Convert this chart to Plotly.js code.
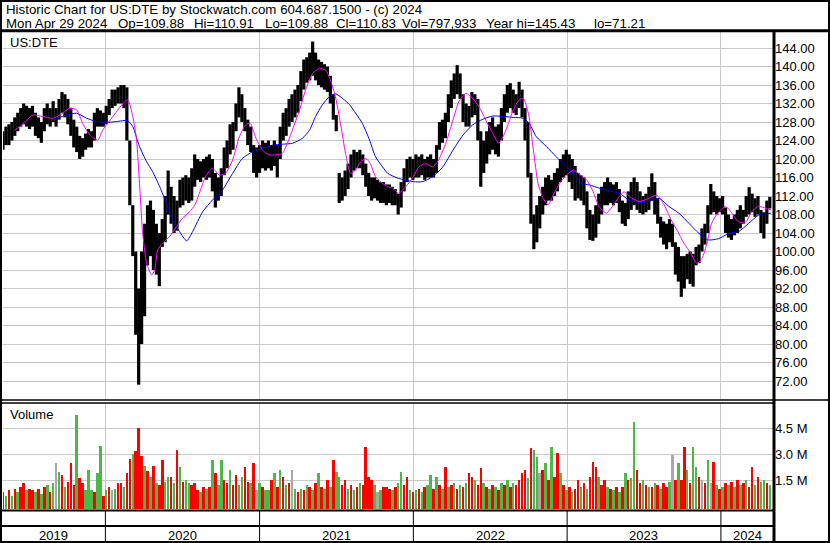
<!DOCTYPE html>
<html><head><meta charset="utf-8">
<script src="https://cdn.plot.ly/plotly-3.0.1.min.js"></script>
<style>html,body{margin:0;padding:0;background:#fff;}#chart{width:830px;height:543px;}</style>
</head><body><div id="chart"></div>
<script>
// ---------------- DATA ----------------
const startDate = '2019-05-03'; // first weekly bar
const weekHigh = [
126,127,127.5,128,129,130,131,132,131.5,131,
131.5,130,129,128,131,132,131,132.5,131,133,
134.5,134,133,131,128.5,127,125,124.5,125.5,126.5,
126,130,131,130.5,130,131.5,133,135,135,135.5,
136,136,135.5,124,110,100,92,100,106,110,
111,109,106,104,107,112,117.5,114,112,111,
115.5,116,116.5,116,118,121,120,119.5,120,120.5,
121,120,117,116,118,122.5,124,127.5,128,132,
135.5,134,131,128.5,127,123,122.5,123,124,123.5,
124,123,124,123,127,130,131,133,134,135,
136,139,141.5,142,143,145.4,143,141.5,141,140.5,
140,138,134,129.5,117,116,117.5,119,121,122,
121.5,122,121,119,117,116,116,115.5,115,115,
114.5,114.5,114,113.5,112.5,115,118,120,120.5,120,
121,120.5,121,120,120.5,121,120,123,128,128.5,
130,134,137,138.5,140.3,138.5,134,132,131.5,134.5,
134,133,126,124,126,128,129,127,127.5,131,
134,136,136.4,135,134,136.7,135,131,128,117,
108,110,112,114,116,116.5,115.5,117,118,120,
121,122,121,120,118.5,117,116.5,116,113,109,
108,110,112.5,114,115,116,115,114.5,115,113.5,
111,110.5,113,115,116,115,113,112,112.5,114,
116.9,115,111.5,107.5,106.5,106,107,106,102,101,
99,99,99.5,100,99.5,101,101.5,105,106,110,
114.6,113,112,111.5,112,109.5,108,107,108,109,
110,109,112,113.9,112.5,111.5,112,109,108.5,111,
111.8];
const weekLow = [
122,123,123,124,125,126,127,127.5,127,126.5,
127,125,124.5,123.5,126,127.5,127,128,127,128.5,
130,129,127.5,125,122.5,121.5,120,120.5,122,122.5,
122.5,124,127,127,127,127.5,129.5,131,131.5,132,
132,131,124,110,99,82,71.2,80,86,97,
99,96,95,92.5,101,102,108,106,104,104.5,
109.5,110,111,110.5,111,114,115.5,115,116,115.5,
116,113,109.5,111,112,116.5,118,121,122,126,
129,128,126,123,121.5,117,116,117,118,117.5,
118,117.5,118.5,116,120,124,125,127,128,129,
130,132.5,135,136.5,137,138,137,136,135.5,135,
134.5,132,128.5,126,110.5,111,112,113.5,116,117.5,
118,118,116.5,114,112,111,111.5,111,110.5,110.5,
110,110.5,110,110,108,109.5,113,115,116,115.5,
116,116,116.5,115.5,116,116,116,117,122,123.5,
124.5,128,131,133,134,133,128,127,127,129,
129.5,124,114,117,119,121,122,121,120.5,124,
128,130,131,130,129.5,131,129,124,116,106,
100.5,102,105,108,110,111,111,112,113,115,
116,116.5,115,113.5,111,111.5,111,110,105,102.5,
102.3,103,106,108,110,110,110.5,110,110.5,108.5,
106,105.5,107,109,110,109,108.3,108,108.5,109,
111,108,106,103,101.5,100.5,102,101,95,93.5,
90.2,92,94,93,92.4,97,97.5,100,101.5,104,
108,108.5,108,108.5,108,104,103,102.5,103.5,104,
105,106,107.5,108,108.5,107.5,108,104,102.8,106,
109.3];
const weekVolume = [ // millions of shares (tallest day of the week)
0.8,0.6,0.9,0.6,1.0,0.8,1.1,1.3,0.9,1.0,
0.9,0.8,1.0,0.7,1.1,1.2,0.8,1.3,2.46,1.96,
1.8,1.1,1.4,2.46,1.2,5.25,1.6,1.3,0.9,2.1,
0.9,0.8,1.9,3.45,0.6,0.9,1.1,0.9,1.0,1.3,
1.3,1.1,1.9,2.7,3.0,3.2,4.48,2.9,2.3,2.0,
1.7,2.3,1.3,1.2,2.65,1.4,1.7,1.69,1.3,3.23,
2.27,1.4,1.5,1.3,1.2,1.3,0.9,0.8,1.1,1.0,
1.1,2.65,1.89,1.2,2.65,1.5,1.3,2.08,1.2,1.8,
1.2,1.69,2.27,1.4,1.3,2.46,0.9,1.3,1.1,0.9,
0.9,1.5,1.89,1.1,2.08,1.69,1.2,1.3,2.08,1.0,
0.8,1.0,0.9,1.2,1.1,0.9,1.3,1.89,1.1,1.0,
1.5,1.1,2.65,1.96,1.69,1.2,1.5,1.0,1.2,0.9,
1.1,1.3,1.2,3.42,1.69,1.5,1.2,0.8,0.9,1.1,
1.1,1.0,0.9,1.1,1.3,1.96,1.2,1.69,0.9,0.8,
0.9,1.0,0.8,1.1,1.2,1.8,1.0,1.69,1.2,1.0,
2.27,1.1,1.2,1.3,1.0,1.2,1.1,1.3,1.89,1.69,
1.5,1.2,2.2,1.3,1.1,1.0,1.2,1.1,0.9,1.3,
1.2,1.5,1.1,1.3,1.2,1.5,1.89,2.08,1.6,3.35,
3.23,2.85,1.89,2.08,2.46,1.5,3.42,1.7,3.04,1.89,
1.2,0.9,1.1,0.8,1.0,1.5,1.1,1.3,1.0,1.69,
2.55,2.27,1.69,1.2,1.5,1.1,1.0,0.9,1.1,0.8,
1.1,1.89,1.5,1.6,4.87,2.08,1.3,1.5,1.2,1.1,
1.1,1.3,1.2,1.0,1.3,1.1,1.4,2.94,1.5,2.46,
1.5,3.42,2.08,1.3,3.42,2.27,1.69,1.5,1.3,2.65,
1.3,2.55,1.2,1.0,1.1,1.3,1.2,1.4,1.1,1.5,
1.2,1.3,1.5,1.1,2.27,1.2,1.69,1.4,1.5,1.3,1.2];
const weekVolDirection = ( // r = down, g = up, k = unchanged
'rgrgrgrrgr'+'rgrgrgrgkg'+'rgrrrgrrgg'+'grggrgrkgr'+'rgrrgrrrgr'+
'grgrrggrgr'+'grggrrrgrg'+'rgrggrrgrr'+'ggrrgrkgrg'+'grgrgrgrkg'+
'rgrgrgrgrg'+'rgrggrrgrg'+'rgrrrrgkgr'+'rrgrggrrgr'+'grgrggrgrg'+
'rgrgrgrgrr'+'grrgrgrgrg'+'rgrgrrrrgr'+'ggkrgrgrrg'+'rgrgrrgrgr'+
'rrgrrgrgrg'+'rgrggrrgrg'+'rgrgrrgkrg'+'rrgrggrkrg'+'krgrgrgrgr'+
'grgrrgrggrg').split('');

const fastMaDates = ['2019-05-31','2019-06-12','2019-07-13','2019-08-05','2019-08-29','2019-09-22','2019-10-08','2019-10-25','2019-11-08','2019-11-25','2019-12-14','2019-12-26',
'2020-01-19','2020-02-09','2020-02-23','2020-03-06','2020-03-15','2020-03-22','2020-03-29','2020-04-08','2020-04-20','2020-04-27','2020-05-04','2020-05-16','2020-06-01','2020-06-18','2020-07-02','2020-07-19','2020-07-31','2020-08-11','2020-08-26','2020-09-11','2020-09-28','2020-10-12','2020-10-29','2020-11-14','2020-11-29','2020-12-10','2020-12-22',
'2021-01-08','2021-01-24','2021-02-08','2021-02-24','2021-03-08','2021-03-20','2021-04-06','2021-04-20','2021-05-07','2021-05-23','2021-06-07','2021-06-18','2021-06-30','2021-07-12','2021-07-24','2021-08-05','2021-08-17','2021-08-29','2021-09-10','2021-09-21','2021-10-03','2021-10-20','2021-11-01','2021-11-13','2021-11-27','2021-12-14',
'2022-01-01','2022-01-14','2022-01-30','2022-02-16','2022-03-02','2022-03-19','2022-04-05','2022-04-19','2022-05-06','2022-05-22','2022-06-06','2022-06-22','2022-07-09','2022-07-23','2022-08-09','2022-08-26','2022-09-09','2022-09-19','2022-10-01','2022-10-13','2022-10-24','2022-11-05','2022-11-17','2022-11-29','2022-12-14','2022-12-30',
'2023-01-16','2023-01-30','2023-02-16','2023-03-02','2023-03-18','2023-04-04','2023-04-18','2023-05-05','2023-05-16','2023-06-04','2023-06-21','2023-07-14','2023-08-02','2023-08-19','2023-09-05','2023-09-19','2023-10-05','2023-10-22','2023-11-05','2023-11-17','2023-11-29','2023-12-10','2023-12-27',
'2024-01-13','2024-01-27','2024-02-12','2024-02-29','2024-03-14','2024-03-31','2024-04-17','2024-04-29'];
const fastMaValues = [126.3,127,129.5,129.2,128.8,129.9,131,130.6,127.7,125.2,124.1,126.3,
129.2,131.7,132.8,129.2,124.1,114.7,104.6,97.4,94.9,96,100.3,101.8,103.2,105.4,107.2,108.6,110,112.6,116.2,118,116.5,116.9,119.8,124.8,127.4,127.7,124.8,
121.9,120.9,120.9,121.2,123.4,126.3,130.6,134.9,138.5,139.6,139.2,137.1,133.5,127.7,121.2,116.9,117.6,119.4,120.1,119,116.2,114.7,114,113.7,112.6,114,
116.2,118.3,119,118.3,119.8,123.4,128.4,132.4,134.2,133.1,131.3,128.4,125.5,123.4,126.3,130.6,132.8,133.1,129.9,121.9,114.7,111.5,110.1,112.2,114.7,116.5,
117.6,116.7,115.5,113.3,109.7,108.3,109.7,111.9,112.9,111.5,110.8,111.5,112.2,110.1,106.8,104.6,101.8,99.6,97.4,98.5,101.8,106.1,108.6,
109.7,108.3,106.4,106.4,108.6,109.8,109.3,109];

const slowMaDates = ['2019-09-03','2019-10-01','2019-10-25','2019-11-18','2019-12-11',
'2020-01-04','2020-01-28','2020-02-23','2020-03-06','2020-03-22','2020-04-08','2020-04-22','2020-05-09','2020-05-25','2020-06-08','2020-06-25','2020-07-12','2020-07-26','2020-08-19','2020-09-11','2020-10-05','2020-10-29','2020-11-21','2020-12-16',
'2021-01-08','2021-02-01','2021-02-24','2021-03-20','2021-04-13','2021-04-30','2021-05-14','2021-05-30','2021-06-16','2021-06-30','2021-07-17','2021-08-03','2021-08-17','2021-09-02','2021-09-19','2021-10-03','2021-10-20','2021-11-01','2021-11-27',
'2022-01-01','2022-01-23','2022-02-16','2022-03-12','2022-04-05','2022-04-29','2022-05-22','2022-06-15','2022-07-09','2022-08-02','2022-08-26','2022-09-19','2022-10-03','2022-10-20','2022-11-13','2022-12-06','2022-12-30',
'2023-01-16','2023-02-04','2023-02-23','2023-03-18','2023-04-11','2023-05-05','2023-05-28','2023-06-21','2023-07-14','2023-08-07','2023-08-31','2023-09-23','2023-10-17','2023-11-10','2023-12-03','2023-12-27',
'2024-01-20','2024-02-12','2024-03-07','2024-03-31','2024-04-29'];
const slowMaValues = [128.6,129.5,129.9,128.8,128.1,
127.9,128.1,128.3,127,122.7,119.4,117.3,114,110.4,106.8,104.3,102.3,104.3,108.6,111.1,113.3,116.9,120.1,121.6,
122.3,123,123.2,123.4,124.5,126.3,129.2,131.7,133.5,134.1,133.1,131.7,129.9,127.7,124.1,120.5,118.3,116.9,115.8,
115.1,115.1,116.2,118.3,121.9,125.2,127.4,128.6,129.3,129.2,129,128.8,127.7,124.8,122.7,120.5,118.3,
116.9,114.7,114.4,113.7,113.1,112.6,111.1,110.6,110.8,111.5,109.7,108.3,106.1,103.9,102.5,102.8,
103.9,104.3,106.1,107.9,108.3];

const priceTicks = [72,76,80,84,88,92,96,100,104,108,112,116,120,124,128,132,136,140,144];
const volTicks = [1.5,3.0,4.5];
const volTickText = ['1.5 M','3.0 M','4.5 M'];
const yearStarts = ['2020-01-01','2021-01-01','2022-01-01','2023-01-01','2024-01-01'];
const yearLabels = ['2019','2020','2021','2022','2023','2024'];
const yearLabelDates = ['2019-09-01','2020-07-02','2021-07-02','2022-07-02','2023-07-02','2024-03-04'];
const headLine1 = 'Historic Chart for US:DTE by Stockwatch.com 604.687.1500 - (c) 2024';
const headFields = ['Mon Apr 29 2024','Op=109.88','Hi=110.91','Lo=109.88','Cl=110.83','Vol=797,933','Year hi=145.43','lo=71.21'];

// ---------------- LAYOUT CONSTANTS ----------------
const W = 830, H = 543;
const px = x => x / W, py = y => 1 - y / H;
const FONT = 'Arial, "Liberation Sans", sans-serif';
const volFloor = -0.173;
const headFieldX = [5,117,193,264,335,401,485,593];
const dirColor = {r:'#ff0000', g:'#4cb848', k:'#a8a8a8'};

const t0 = new Date(startDate + 'T00:00:00Z').getTime();
const weekDates = weekHigh.map((_, i) => new Date(t0 + i * 7 * 86400000).toISOString().slice(0, 10));

const barX = [], barY = [];
weekDates.forEach((d, i) => { barX.push(d, d, null); barY.push(weekLow[i], weekHigh[i], null); });

const traces = [
  {type:'bar', x:weekDates, y:weekVolume.map(v => v - volFloor), base:volFloor, xaxis:'x', yaxis:'y2',
   width:6*86400000, marker:{color:weekVolDirection.map(c => dirColor[c]), line:{width:0}}, hoverinfo:'skip'},
  {type:'scatter', mode:'lines', x:barX, y:barY, connectgaps:false, xaxis:'x', yaxis:'y',
   line:{color:'#000000', width:3.2}, hoverinfo:'skip'},
  {type:'scatter', mode:'lines', x:slowMaDates, y:slowMaValues, xaxis:'x', yaxis:'y',
   line:{color:'#0000ff', width:1, shape:'spline', smoothing:0.6}, hoverinfo:'skip'},
  {type:'scatter', mode:'lines', x:fastMaDates, y:fastMaValues, xaxis:'x', yaxis:'y',
   line:{color:'#ff00ff', width:1, shape:'spline', smoothing:0.6}, hoverinfo:'skip'}
];

const hline = (y, x0, x1, w) => ({type:'line', xref:'paper', yref:'paper', x0:px(x0), x1:px(x1), y0:py(y), y1:py(y), line:{color:'#000', width:w}});
const vline = (x, y0, y1, w) => ({type:'line', xref:'paper', yref:'paper', x0:px(x), x1:px(x), y0:py(y0), y1:py(y1), line:{color:'#000', width:w}});

const shapes = [
  {type:'rect', xref:'paper', yref:'paper', x0:px(1), x1:px(829), y0:py(542), y1:py(1), line:{color:'#000', width:2}},
  hline(30.8, 0, 830, 3),
  vline(774, 31, 543, 3),
  hline(400, 0, 830, 1.5),
  hline(403, 0, 774, 1.5),
  hline(510.5, 0, 774, 2),
  hline(526, 0, 774, 2)
];
yearStarts.forEach(d => shapes.push({type:'line', xref:'x', yref:'paper', x0:d, x1:d, y0:py(510), y1:py(542), line:{color:'#000', width:1}}));

const txt = (text, x, y, size) => ({text, xref:'paper', yref:'paper', x:px(x), y:py(y), xanchor:'left', yanchor:'middle', showarrow:false, borderpad:0, font:{family:FONT, size:size||13, color:'#000'}});
const annotations = [txt(headLine1, 5, 10, 13.3), txt('US:DTE', 9, 42), txt('Volume', 9, 414)];
headFields.forEach((f, i) => annotations.push(txt(f, headFieldX[i], 23.5, 13.3)));
yearLabels.forEach((lab, i) => annotations.push({text:lab, xref:'x', yref:'paper', x:yearLabelDates[i], y:py(535), xanchor:'center', yanchor:'middle', showarrow:false, borderpad:0, font:{family:FONT, size:13, color:'#000'}}));

const layout = {
  width:W, height:H, margin:{l:0, r:0, t:0, b:0, pad:0},
  paper_bgcolor:'#ffffff', plot_bgcolor:'#ffffff', showlegend:false, bargap:0,
  xaxis:{type:'date', range:['2019-05-03','2024-05-06'], domain:[px(3), px(774)], anchor:'y2',
    tickvals:yearStarts, showticklabels:false, ticks:'', showgrid:true, gridcolor:'#c8c8c8', gridwidth:1,
    showline:false, zeroline:false, fixedrange:true},
  yaxis:{domain:[py(400), py(32)], range:[67.892, 147.459], side:'right', anchor:'x',
    tickvals:priceTicks, ticktext:priceTicks.map(v => v.toFixed(2)), ticks:'', showgrid:true, gridcolor:'#c8c8c8', gridwidth:1,
    showline:false, zeroline:false, tickfont:{family:FONT, size:13, color:'#000'}, fixedrange:true},
  yaxis2:{domain:[py(509), py(403)], range:[volFloor, 5.942], side:'right', anchor:'x',
    tickvals:volTicks, ticktext:volTickText, ticks:'', showgrid:true, gridcolor:'#c8c8c8', gridwidth:1,
    showline:false, zeroline:false, tickfont:{family:FONT, size:13, color:'#000'}, fixedrange:true},
  shapes, annotations
};

Plotly.newPlot('chart', traces, layout, {staticPlot:true, displayModeBar:false});
</script></body></html>
